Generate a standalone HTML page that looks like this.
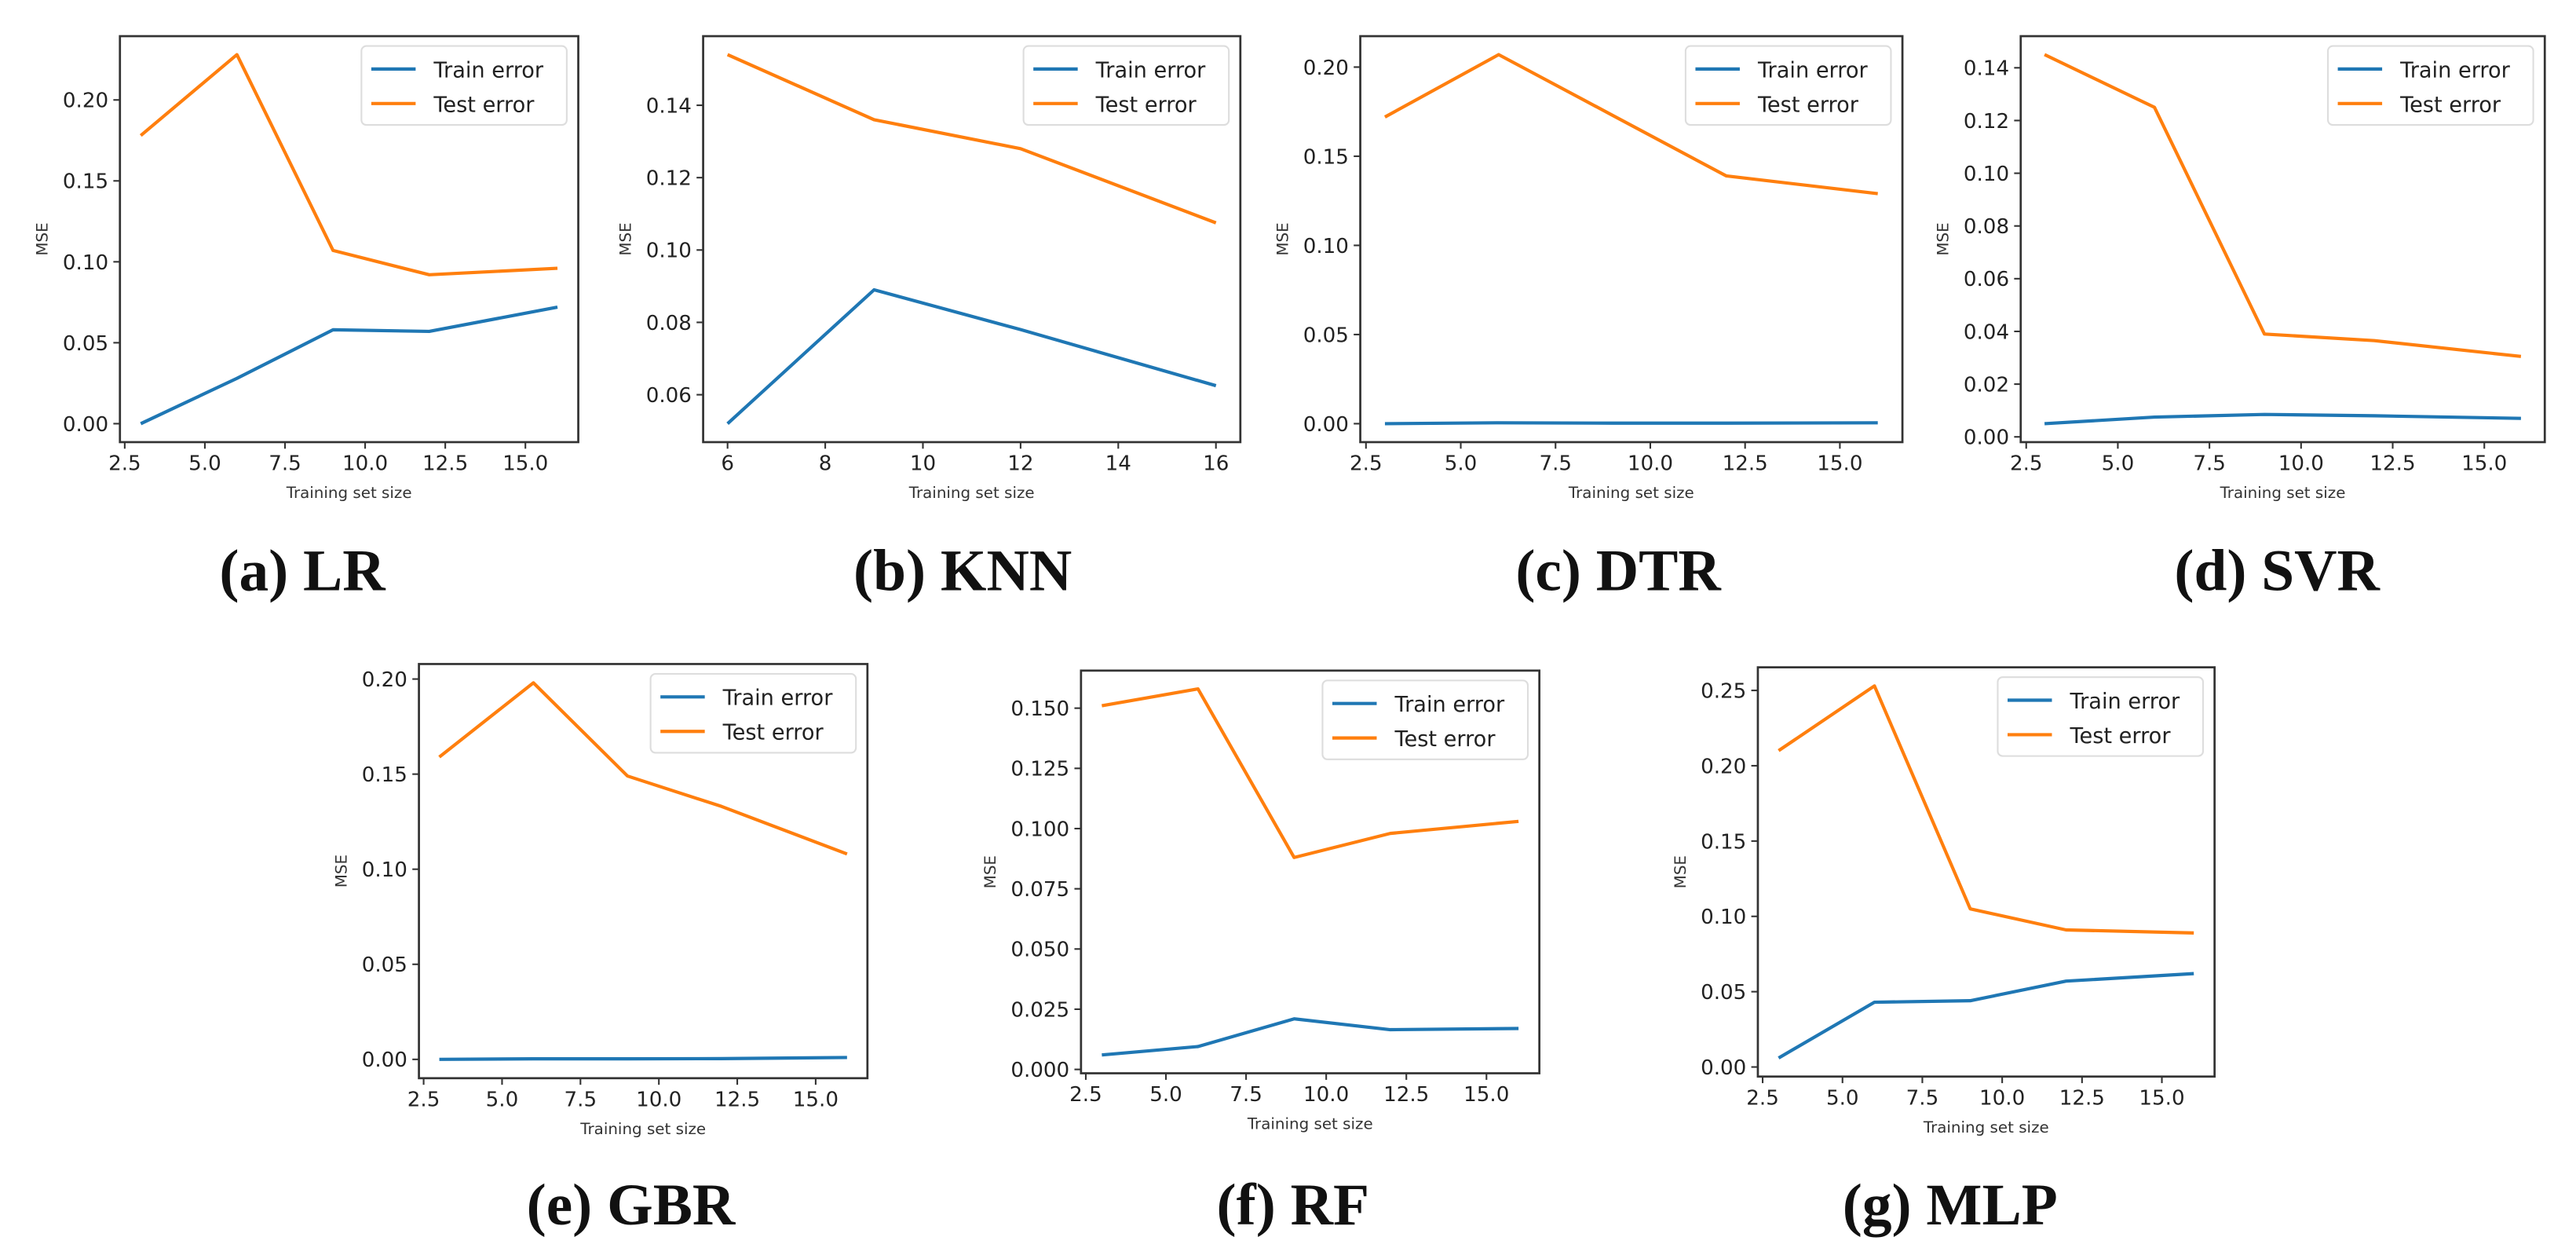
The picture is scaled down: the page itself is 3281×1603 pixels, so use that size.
<!DOCTYPE html>
<html><head><meta charset="utf-8"><style>
html,body{margin:0;padding:0;background:#fff;}
svg{display:block;}
text{font-family:"DejaVu Sans","Liberation Sans",sans-serif;}
.cap{font-family:"Liberation Serif",serif;font-weight:bold;}
</style></head><body>
<svg id="fig" width="3281" height="1603" viewBox="0 0 1568 766" preserveAspectRatio="none" xmlns="http://www.w3.org/2000/svg"></svg>
<script>
// ---- data ----
const xsStd = [3, 6, 9, 12, 16];
const xsKnn = [6, 9, 12, 16];
const lrTrain = [0.000, 0.028, 0.058, 0.057, 0.072];
const lrTest = [0.178, 0.228, 0.107, 0.092, 0.096];
const knnTrain = [0.052, 0.089, 0.078, 0.0625];
const knnTest = [0.154, 0.136, 0.128, 0.1075];
const dtrTrain = [0.000, 0.0005, 0.0003, 0.0003, 0.0005];
const dtrTest = [0.172, 0.207, 0.173, 0.139, 0.129];
const svrTrain = [0.005, 0.0075, 0.0085, 0.008, 0.007];
const svrTest = [0.145, 0.125, 0.039, 0.0365, 0.0305];
const gbrTrain = [0.000, 0.0003, 0.0003, 0.0004, 0.001];
const gbrTest = [0.159, 0.198, 0.149, 0.133, 0.108];
const rfTrain = [0.006, 0.0095, 0.021, 0.0165, 0.017];
const rfTest = [0.151, 0.158, 0.088, 0.098, 0.103];
const mlpTrain = [0.006, 0.043, 0.044, 0.057, 0.062];
const mlpTest = [0.210, 0.253, 0.105, 0.091, 0.089];
const xTicksStd = [2.5, 5.0, 7.5, 10.0, 12.5, 15.0];
const xTicksKnn = [6, 8, 10, 12, 14, 16];
const yTicksA = [0, 0.05, 0.10, 0.15, 0.20];
const yTicksB = [0.06, 0.08, 0.10, 0.12, 0.14];
const yTicksD = [0, 0.02, 0.04, 0.06, 0.08, 0.10, 0.12, 0.14];
const yTicksF = [0, 0.025, 0.05, 0.075, 0.10, 0.125, 0.15];
const yTicksG = [0, 0.05, 0.10, 0.15, 0.20, 0.25];

const panels = [
 {id:'lr', cap:'(a) LR', cx:184, cy:359, xs:xsStd, tr:lrTrain, te:lrTest, xt:xTicksStd, xd:1, yt:yTicksA, yd:2, box:[73,22,352,269]},
 {id:'knn', cap:'(b) KNN', cx:586, cy:359, xs:xsKnn, tr:knnTrain, te:knnTest, xt:xTicksKnn, xd:0, yt:yTicksB, yd:2, box:[428,22,755,269]},
 {id:'dtr', cap:'(c) DTR', cx:985, cy:359, xs:xsStd, tr:dtrTrain, te:dtrTest, xt:xTicksStd, xd:1, yt:yTicksA, yd:2, box:[828,22,1158,269]},
 {id:'svr', cap:'(d) SVR', cx:1386, cy:359, xs:xsStd, tr:svrTrain, te:svrTest, xt:xTicksStd, xd:1, yt:yTicksD, yd:2, box:[1230,22,1549,269]},
 {id:'gbr', cap:'(e) GBR', cx:384, cy:745, xs:xsStd, tr:gbrTrain, te:gbrTest, xt:xTicksStd, xd:1, yt:yTicksA, yd:2, box:[255,404,528,656]},
 {id:'rf', cap:'(f) RF', cx:787, cy:745, xs:xsStd, tr:rfTrain, te:rfTest, xt:xTicksStd, xd:1, yt:yTicksF, yd:3, box:[658,408,937,653]},
 {id:'mlp', cap:'(g) MLP', cx:1187, cy:745, xs:xsStd, tr:mlpTrain, te:mlpTest, xt:xTicksStd, xd:1, yt:yTicksG, yd:2, box:[1070,406,1348,655]}
];
const NS='http://www.w3.org/2000/svg';
const fig=document.getElementById('fig');
function mk(tag,attrs,parent,txt){const e=document.createElementNS(NS,tag);for(const k in attrs)e.setAttribute(k,attrs[k]);if(txt!==undefined)e.textContent=txt;parent.appendChild(e);return e;}

panels.forEach(p=>{
  const g=mk('g',{},fig);
  
  
  const [L,T,R,B]=p.box;
  const xmin=Math.min(...p.xs), xmax=Math.max(...p.xs);
  const all=p.tr.concat(p.te);
  const ymin=Math.min(...all), ymax=Math.max(...all);
  const xp=(xmax-xmin)*0.05, yp=(ymax-ymin)*0.05;
  const x0=xmin-xp,x1=xmax+xp,y0=ymin-yp,y1=ymax+yp;
  const sx=v=>L+(v-x0)/(x1-x0)*(R-L);
  const sy=v=>B-(v-y0)/(y1-y0)*(B-T);
  [[p.tr,'#1f77b4','train-error-line'],[p.te,'#ff7f0e','test-error-line']].forEach(([d,c,n])=>{
    const pts=d.map((v,i)=>sx(p.xs[i]).toFixed(2)+','+sy(v).toFixed(2)).join(' ');
    const pl=mk('polyline',{points:pts,fill:'none',stroke:c,'stroke-width':2,'stroke-linejoin':'round'},g);
    
    
  });
  const fr=mk('rect',{x:L,y:T,width:R-L,height:B-T,fill:'none',stroke:'#333','stroke-width':1.3},g);
  
  
  p.xt.forEach(v=>{
    const x=sx(v);
    mk('line',{x1:x,y1:B,x2:x,y2:B+4,stroke:'#333','stroke-width':1},g);
    const t=mk('text',{x:x,y:B+17,'font-size':12.5,'text-anchor':'middle',fill:'#222'},g,v.toFixed(p.xd));
    
    
  });
  p.yt.forEach(v=>{
    const y=sy(v);
    mk('line',{x1:L-4,y1:y,x2:L,y2:y,stroke:'#333','stroke-width':1},g);
    const t=mk('text',{x:L-7,y:y+4.5,'font-size':12.5,'text-anchor':'end',fill:'#222'},g,v.toFixed(p.yd));
    
    
  });
  const xl=mk('text',{x:(L+R)/2,y:B+34,'font-size':9.5,'text-anchor':'middle',fill:'#333'},g,'Training set size');
  
  
  const wlab=(p.yd===3?52:44);
  const yl=mk('text',{x:0,y:0,'font-size':9.5,'text-anchor':'middle',fill:'#333',transform:`translate(${L-wlab},${(T+B)/2}) rotate(-90)`},g,'MSE');
  
  
  const lg=mk('g',{},g);
  
  
  const lx=R-132, ly=T+6;
  mk('rect',{x:lx,y:ly,width:125,height:48,rx:3,fill:'#fff',stroke:'#ddd','stroke-width':1},lg);
  [['Train error','#1f77b4'],['Test error','#ff7f0e']].forEach(([n,c],i)=>{
    const yy=ly+14+i*21;
    mk('line',{x1:lx+6,y1:yy,x2:lx+33,y2:yy,stroke:c,'stroke-width':2},lg);
    const t=mk('text',{x:lx+44,y:yy+5,'font-size':13,fill:'#222'},lg,n);
    
    
  });
  const cap=mk('text',{x:p.cx,y:p.cy,'font-size':36,'text-anchor':'middle',fill:'#111',class:'cap'},g,p.cap);
  
  
});
</script>
</body></html>
